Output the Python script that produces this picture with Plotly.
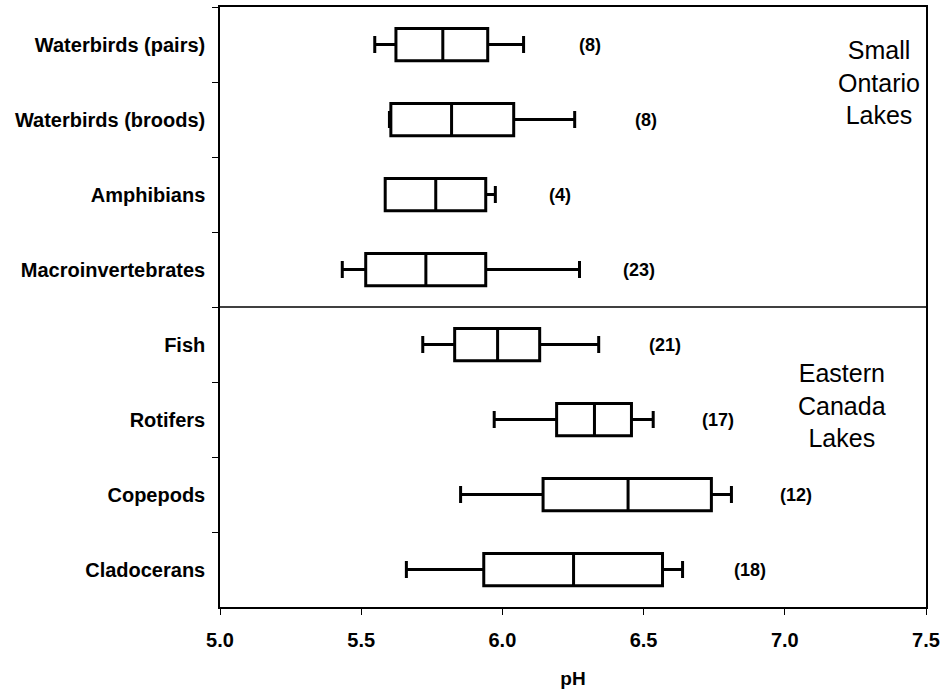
import plotly.graph_objects as go

categories = ["Waterbirds (pairs)", "Waterbirds (broods)", "Amphibians", "Macroinvertebrates",
              "Fish", "Rotifers", "Copepods", "Cladocerans"]
lower = [5.548, 5.600, 5.585, 5.433, 5.718, 5.971, 5.852, 5.660]
q1 = [5.623, 5.605, 5.585, 5.516, 5.831, 6.192, 6.144, 5.934]
median = [5.789, 5.820, 5.764, 5.729, 5.983, 6.326, 6.445, 6.252]
q3 = [5.948, 6.040, 5.941, 5.941, 6.132, 6.457, 6.740, 6.567]
upper = [6.075, 6.256, 5.975, 6.273, 6.341, 6.534, 6.811, 6.638]
n_labels = ["(8)", "(8)", "(4)", "(23)", "(21)", "(17)", "(12)", "(18)"]
n_label_x = [6.309, 6.507, 6.203, 6.482, 6.576, 6.765, 7.040, 6.878]
group_labels = ["Small<br>Ontario<br>Lakes", "Eastern<br>Canada<br>Lakes"]
group_label_x = [7.335, 7.204]
group_label_y = [0.5, 4.81]
x_ticks = [5.0, 5.5, 6.0, 6.5, 7.0, 7.5]

FONT = "Liberation Sans, Arial, sans-serif"

fig = go.Figure()
fig.add_trace(go.Box(
    y=categories, q1=q1, median=median, q3=q3,
    lowerfence=lower, upperfence=upper,
    orientation="h", width=0.43, whiskerwidth=0.53,
    fillcolor="white", line=dict(color="black", width=3),
    boxpoints=False, showlegend=False, hoverinfo="skip",
))

for lab, x, cat in zip(n_labels, n_label_x, categories):
    fig.add_annotation(x=x, y=cat, text=f"<b>{lab}</b>", showarrow=False,
                       font=dict(family=FONT, size=18, color="black"), xanchor="center")

for txt, x, yv in zip(group_labels, group_label_x, group_label_y):
    fig.add_annotation(x=x, y=yv, text=txt, showarrow=False,
                       font=dict(family=FONT, size=25, color="black"),
                       xanchor="center", yanchor="middle", align="center")

# separator between the two lake groups
fig.add_shape(type="line", xref="paper", x0=0, x1=1, yref="y", y0=3.5, y1=3.5,
              line=dict(color="black", width=1.5))

fig.update_layout(
    width=945, height=691,
    margin=dict(l=220, r=18, t=5, b=84),
    paper_bgcolor="white", plot_bgcolor="white",
    font=dict(family=FONT, color="black"),
    xaxis=dict(range=[5.0, 7.5], tickvals=x_ticks, ticktext=[f"{v:.1f}" for v in x_ticks],
               ticks="outside", ticklen=6, tickcolor="black", tickwidth=1,
               showline=True, linecolor="black", linewidth=1.5, mirror=True,
               showgrid=False, zeroline=False, ticklabelstandoff=8,
               tickfont=dict(family=FONT, size=20, color="black", weight="bold"),
               title=dict(text="<b>pH</b>", font=dict(family=FONT, size=19, color="black"), standoff=22)),
    yaxis=dict(type="category", categoryarray=categories, range=[7.5, -0.5],
               ticks="outside", tickson="boundaries", ticklen=6, tickcolor="black",
               showline=True, linecolor="black", linewidth=1.5, mirror=True,
               showgrid=False, zeroline=False, ticklabelstandoff=9,
               tickfont=dict(family=FONT, size=20, color="black", weight="bold")),
)

fig.write_html("out.html")
